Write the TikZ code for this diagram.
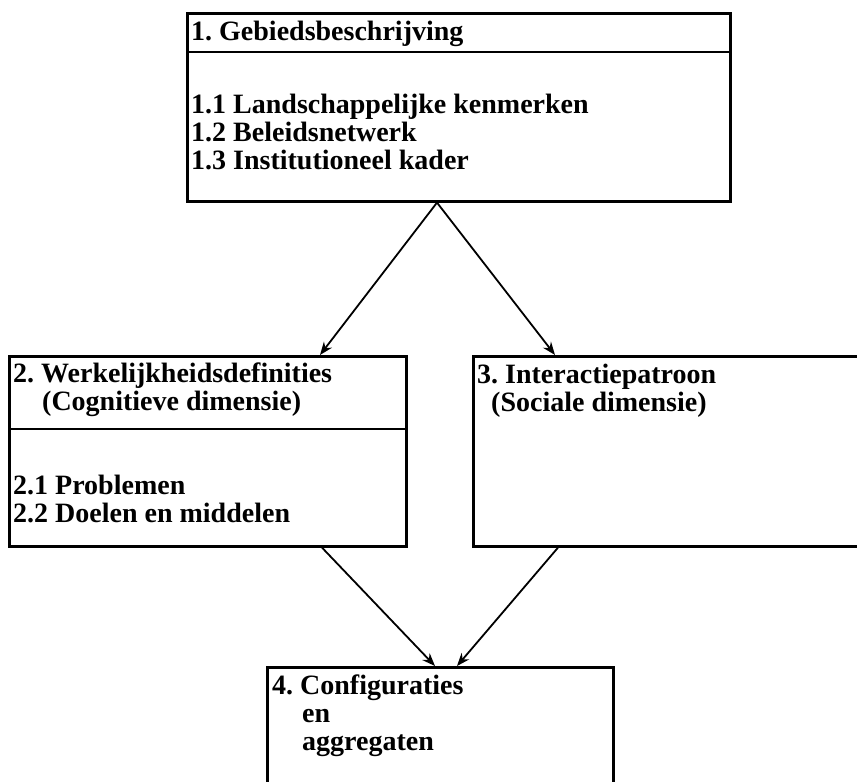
\documentclass[tikz,border=0pt]{standalone}
\usepackage{fontspec}
\setmainfont{Liberation Serif}
\usetikzlibrary{arrows.meta}

\begin{document}
\frenchspacing
\begin{tikzpicture}[
    x=1pt, y=-1pt,
    box/.style={rectangle, draw=black, line width=2.6pt, anchor=north west, inner sep=0pt},
    boxtext/.style={anchor=base west, align=left, inner sep=0pt, font=\fontsize{28}{28}\selectfont\bfseries},
    divider/.style={line width=2pt},
    arrow/.style={-{Stealth[length=13pt, width=10pt]}, line width=1.8pt}
]
    \useasboundingbox (0,0) rectangle (857,782);

    % boxes
    \node [box, minimum width=543pt, minimum height=188pt] (b1) at (186,12) {};
    \node [box, minimum width=397pt, minimum height=190pt] (b2) at (8,355) {};
    \node [box, minimum width=420pt, minimum height=190pt] (b3) at (472,355) {};
    \node [box, minimum width=346pt, minimum height=140pt] (b4) at (266,666) {};

    % dividers
    \draw [divider] ([yshift=-40pt]b1.north west) -- ([yshift=-40pt]b1.north east);
    \draw [divider] ([yshift=-74pt]b2.north west) -- ([yshift=-74pt]b2.north east);

    % texts (base = last line)
    \node [boxtext] (t1) at ([xshift=5pt, yshift=-28pt]b1.north west) {1. Gebiedsbeschrijving};
    \node [boxtext] (t1b) at ([xshift=5pt, yshift=-157pt]b1.north west) {1.1 Landschappelijke kenmerken\\1.2 Beleidsnetwerk\\1.3 Institutioneel kader};
    \node [boxtext] (t2) at ([xshift=5pt, yshift=-55pt]b2.north west) {2. Werkelijkheidsdefinities\\\hspace*{29pt}(Cognitieve dimensie)};
    \node [boxtext] (t2b) at ([xshift=5pt, yshift=-167pt]b2.north west) {2.1 Problemen\\2.2 Doelen en middelen};
    \node [boxtext] (t3) at ([xshift=5pt, yshift=-56pt]b3.north west) {3. Interactiepatroon\\\hspace*{14pt}(Sociale dimensie)};
    \node [boxtext] (t4) at ([xshift=6pt, yshift=-84pt]b4.north west) {4. Configuraties\\\hspace*{30pt}en\\\hspace*{30pt}aggregaten};

    % connectors
    \coordinate (apex) at ([xshift=251pt]b1.south west);
    \draw [arrow] (apex) -- ([xshift=312pt]b2.north west);
    \draw [arrow] (apex) -- ([xshift=83pt]b3.north west);
    \draw [arrow] ([xshift=314pt]b2.south west) -- ([xshift=169pt]b4.north west);
    \draw [arrow] ([xshift=86pt]b3.south west) -- ([xshift=191pt]b4.north west);
\end{tikzpicture}
\end{document}
